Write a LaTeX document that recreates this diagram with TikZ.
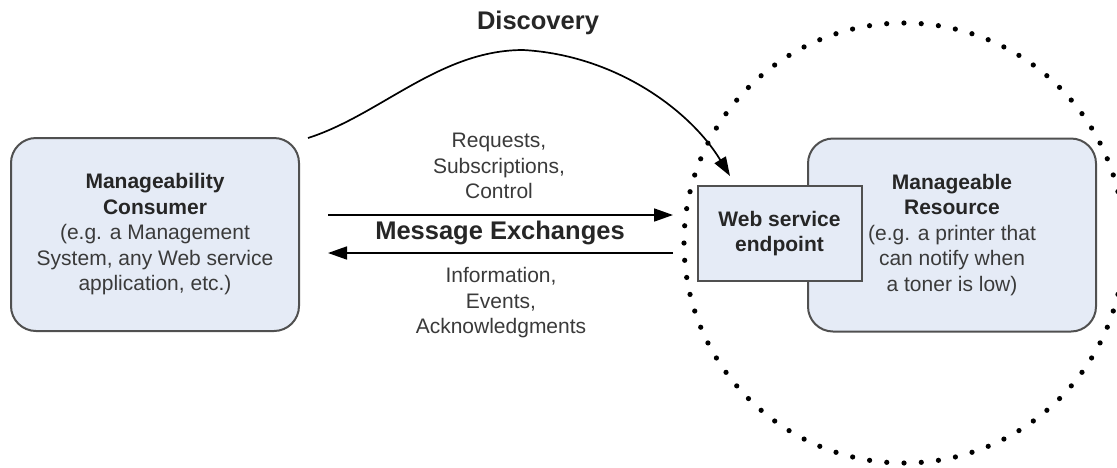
\documentclass[tikz,border=0pt]{standalone}
\usepackage{fontspec}
\setmainfont{Liberation Sans}
\usetikzlibrary{arrows.meta}
\definecolor{boxfill}{HTML}{E5EBF6}
\definecolor{boxline}{HTML}{505050}
\definecolor{txt}{HTML}{3A3A3A}
\definecolor{btxt}{HTML}{262626}
\begin{document}
\begin{tikzpicture}[x=1pt,y=-1pt,
  box/.style={draw=boxline, line width=2pt, fill=boxfill, rounded corners=25pt,
    minimum width=288pt, minimum height=193pt, align=center, inner sep=0pt,
    font=\fontsize{21}{25.5}\selectfont, text=txt},
  epbox/.style={draw=boxline, line width=2pt, fill=boxfill,
    minimum width=164pt, minimum height=95pt, align=center, inner sep=0pt,
    font=\bfseries\fontsize{21}{25.5}\selectfont, text=btxt},
  lbl/.style={align=center, inner sep=0pt, font=\fontsize{21}{25.5}\selectfont, text=txt},
  head/.style={inner sep=0pt, font=\bfseries\fontsize{25.5}{30}\selectfont, text=btxt},
  conn/.style={line width=1.7pt, -{Triangle[length=19pt,width=13pt]}},
  dotring/.style={line width=5.2pt, line cap=round, dash pattern=on 0pt off 17.28pt}]
\useasboundingbox (0,0) rectangle (1117,467);
\fill[white] (0,0) rectangle (1117,467);
\begin{scope}
  \clip (0,0) rectangle (1117,467);
  \draw[dotring] (904,243) circle (220);
\end{scope}
\node[box] (cons) at (155,234.5) {{\color{btxt}\bfseries Manageability}\\{\color{btxt}\bfseries Consumer}\\(e.g. a Management\\System, any Web service\\application, etc.)};
\node[box] (res) at (952,235) {{\color{btxt}\bfseries Manageable}\\{\color{btxt}\bfseries Resource}\\(e.g. a printer that\\can notify when\\a toner is low)};
\node[epbox] (ep) at (779.5,233.5) {Web service\\endpoint};
\node[head] (disc) at (538,23) {Discovery};
\node[head] (msg) at (500,233) {Message Exchanges};
\node[lbl] (req) at (499,166) {Requests,\\Subscriptions,\\Control};
\node[lbl] (info) at (501,303) {Information,\\Events,\\Acknowledgments};
\coordinate (reqs) at (328,215);
\coordinate (reqe) at (673,215);
\coordinate (infs) at (673,253);
\coordinate (infe) at (328,253);
\coordinate (dstart) at (308,138);
\coordinate (dpeak) at (523,50);
\coordinate (dend) at (730,176);
\draw[conn] (reqs) -- (reqe);
\draw[conn] (infs) -- (infe);
\draw[conn] (dstart) .. controls (380,115) and (440,50) .. (dpeak) .. controls (615,55) and (690,110) .. (dend);
\end{tikzpicture}
\end{document}
